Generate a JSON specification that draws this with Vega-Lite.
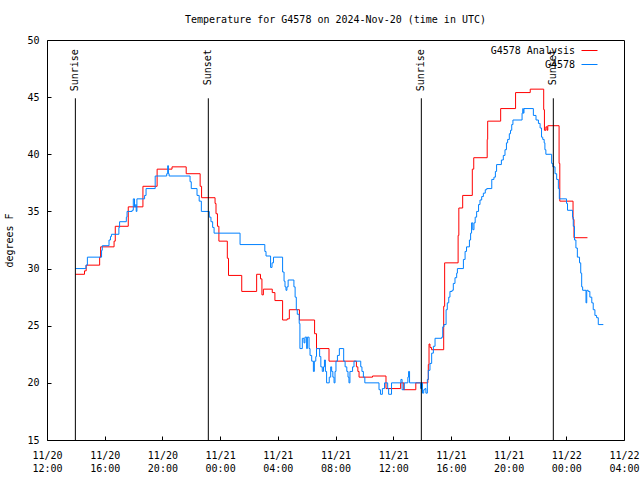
{
"$schema": "https://vega.github.io/schema/vega-lite/v6.json",
"width": 577, "height": 400,
"autosize": {"type": "none"},
"padding": {"left": 47, "top": 40, "right": 16, "bottom": 40},
"background": "white",
"title": {"text": "Temperature for G4578 on 2024-Nov-20 (time in UTC)", "font": "DejaVu Sans Mono", "fontSize": 10, "fontWeight": "normal", "offset": 10, "anchor": "middle", "color": "black"},
"config": {
  "view": {"stroke": "black", "strokeWidth": 1},
  "font": "DejaVu Sans Mono",
  "axis": {"domain": false, "grid": false, "labelFont": "DejaVu Sans Mono", "labelFontSize": 10, "labelColor": "black", "tickColor": "black", "titleFont": "DejaVu Sans Mono", "titleFontSize": 10, "titleFontWeight": "normal", "titleColor": "black"}
},
"datasets": {
"events": [
{"time": "2024-11-20T13:58:00Z", "event": "Sunrise"},
{"time": "2024-11-20T23:11:00Z", "event": "Sunset"},
{"time": "2024-11-21T13:57:00Z", "event": "Sunrise"},
{"time": "2024-11-21T23:06:00Z", "event": "Sunset"}
],
"obs": [
{"time":"2024-11-20T13:58:00Z","series":"G4578 Analysis","temp":29.5},
{"time":"2024-11-20T14:36:00Z","series":"G4578 Analysis","temp":29.8},
{"time":"2024-11-20T14:43:00Z","series":"G4578 Analysis","temp":30.3},
{"time":"2024-11-20T15:39:00Z","series":"G4578 Analysis","temp":31.0},
{"time":"2024-11-20T15:43:00Z","series":"G4578 Analysis","temp":31.9},
{"time":"2024-11-20T16:39:00Z","series":"G4578 Analysis","temp":32.4},
{"time":"2024-11-20T16:44:00Z","series":"G4578 Analysis","temp":33.7},
{"time":"2024-11-20T17:38:00Z","series":"G4578 Analysis","temp":35.4},
{"time":"2024-11-20T18:39:00Z","series":"G4578 Analysis","temp":37.2},
{"time":"2024-11-20T19:38:00Z","series":"G4578 Analysis","temp":38.7},
{"time":"2024-11-20T20:40:00Z","series":"G4578 Analysis","temp":38.9},
{"time":"2024-11-20T21:39:00Z","series":"G4578 Analysis","temp":38.3},
{"time":"2024-11-20T22:37:00Z","series":"G4578 Analysis","temp":37.2},
{"time":"2024-11-20T22:43:00Z","series":"G4578 Analysis","temp":36.2},
{"time":"2024-11-20T23:39:00Z","series":"G4578 Analysis","temp":35.7},
{"time":"2024-11-20T23:43:00Z","series":"G4578 Analysis","temp":34.8},
{"time":"2024-11-20T23:49:00Z","series":"G4578 Analysis","temp":33.7},
{"time":"2024-11-20T23:55:00Z","series":"G4578 Analysis","temp":32.4},
{"time":"2024-11-21T00:30:00Z","series":"G4578 Analysis","temp":30.9},
{"time":"2024-11-21T00:35:00Z","series":"G4578 Analysis","temp":29.4},
{"time":"2024-11-21T01:30:00Z","series":"G4578 Analysis","temp":28.0},
{"time":"2024-11-21T02:32:00Z","series":"G4578 Analysis","temp":29.5},
{"time":"2024-11-21T02:48:00Z","series":"G4578 Analysis","temp":29.1},
{"time":"2024-11-21T02:54:00Z","series":"G4578 Analysis","temp":27.7},
{"time":"2024-11-21T03:00:00Z","series":"G4578 Analysis","temp":28.2},
{"time":"2024-11-21T03:37:00Z","series":"G4578 Analysis","temp":27.9},
{"time":"2024-11-21T03:48:00Z","series":"G4578 Analysis","temp":27.2},
{"time":"2024-11-21T04:20:00Z","series":"G4578 Analysis","temp":25.5},
{"time":"2024-11-21T04:39:00Z","series":"G4578 Analysis","temp":25.6},
{"time":"2024-11-21T04:48:00Z","series":"G4578 Analysis","temp":26.4},
{"time":"2024-11-21T05:30:00Z","series":"G4578 Analysis","temp":25.5},
{"time":"2024-11-21T06:33:00Z","series":"G4578 Analysis","temp":24.3},
{"time":"2024-11-21T06:41:00Z","series":"G4578 Analysis","temp":23.0},
{"time":"2024-11-21T07:33:00Z","series":"G4578 Analysis","temp":21.9},
{"time":"2024-11-21T08:42:00Z","series":"G4578 Analysis","temp":21.9},
{"time":"2024-11-21T09:27:00Z","series":"G4578 Analysis","temp":21.4},
{"time":"2024-11-21T09:33:00Z","series":"G4578 Analysis","temp":21.0},
{"time":"2024-11-21T09:38:00Z","series":"G4578 Analysis","temp":20.5},
{"time":"2024-11-21T10:34:00Z","series":"G4578 Analysis","temp":20.6},
{"time":"2024-11-21T11:30:00Z","series":"G4578 Analysis","temp":19.5},
{"time":"2024-11-21T12:31:00Z","series":"G4578 Analysis","temp":20.0},
{"time":"2024-11-21T12:44:00Z","series":"G4578 Analysis","temp":19.4},
{"time":"2024-11-21T13:34:00Z","series":"G4578 Analysis","temp":20.0},
{"time":"2024-11-21T14:24:00Z","series":"G4578 Analysis","temp":20.3},
{"time":"2024-11-21T14:26:00Z","series":"G4578 Analysis","temp":21.6},
{"time":"2024-11-21T14:29:00Z","series":"G4578 Analysis","temp":23.4},
{"time":"2024-11-21T14:33:00Z","series":"G4578 Analysis","temp":23.1},
{"time":"2024-11-21T14:39:00Z","series":"G4578 Analysis","temp":22.9},
{"time":"2024-11-21T15:30:00Z","series":"G4578 Analysis","temp":26.7},
{"time":"2024-11-21T15:34:00Z","series":"G4578 Analysis","temp":30.5},
{"time":"2024-11-21T15:36:00Z","series":"G4578 Analysis","temp":30.5},
{"time":"2024-11-21T16:30:00Z","series":"G4578 Analysis","temp":32.9},
{"time":"2024-11-21T16:33:00Z","series":"G4578 Analysis","temp":35.3},
{"time":"2024-11-21T16:49:00Z","series":"G4578 Analysis","temp":36.4},
{"time":"2024-11-21T17:29:00Z","series":"G4578 Analysis","temp":38.7},
{"time":"2024-11-21T17:35:00Z","series":"G4578 Analysis","temp":39.7},
{"time":"2024-11-21T18:31:00Z","series":"G4578 Analysis","temp":41.3},
{"time":"2024-11-21T18:33:00Z","series":"G4578 Analysis","temp":42.9},
{"time":"2024-11-21T19:27:00Z","series":"G4578 Analysis","temp":44.0},
{"time":"2024-11-21T20:29:00Z","series":"G4578 Analysis","temp":45.4},
{"time":"2024-11-21T21:30:00Z","series":"G4578 Analysis","temp":45.7},
{"time":"2024-11-21T22:26:00Z","series":"G4578 Analysis","temp":43.9},
{"time":"2024-11-21T22:29:00Z","series":"G4578 Analysis","temp":42.1},
{"time":"2024-11-21T22:35:00Z","series":"G4578 Analysis","temp":42.4},
{"time":"2024-11-21T22:40:00Z","series":"G4578 Analysis","temp":42.1},
{"time":"2024-11-21T22:43:00Z","series":"G4578 Analysis","temp":42.5},
{"time":"2024-11-21T23:30:00Z","series":"G4578 Analysis","temp":39.2},
{"time":"2024-11-21T23:33:00Z","series":"G4578 Analysis","temp":35.9},
{"time":"2024-11-22T00:28:00Z","series":"G4578 Analysis","temp":34.3},
{"time":"2024-11-22T00:32:00Z","series":"G4578 Analysis","temp":32.7},
{"time":"2024-11-22T01:28:00Z","series":"G4578 Analysis","temp":32.7},
{"time":"2024-11-20T13:58:00Z","series":"G4578","temp":30.0},
{"time":"2024-11-20T14:42:00Z","series":"G4578","temp":30.3},
{"time":"2024-11-20T14:48:00Z","series":"G4578","temp":31.0},
{"time":"2024-11-20T15:47:00Z","series":"G4578","temp":31.6},
{"time":"2024-11-20T15:50:00Z","series":"G4578","temp":32.0},
{"time":"2024-11-20T16:18:00Z","series":"G4578","temp":32.5},
{"time":"2024-11-20T16:24:00Z","series":"G4578","temp":32.8},
{"time":"2024-11-20T16:28:00Z","series":"G4578","temp":33.0},
{"time":"2024-11-20T16:59:00Z","series":"G4578","temp":33.6},
{"time":"2024-11-20T17:02:00Z","series":"G4578","temp":34.1},
{"time":"2024-11-20T17:30:00Z","series":"G4578","temp":34.5},
{"time":"2024-11-20T17:33:00Z","series":"G4578","temp":35.0},
{"time":"2024-11-20T17:54:00Z","series":"G4578","temp":35.1},
{"time":"2024-11-20T17:59:00Z","series":"G4578","temp":36.1},
{"time":"2024-11-20T18:04:00Z","series":"G4578","temp":35.4},
{"time":"2024-11-20T18:09:00Z","series":"G4578","temp":35.6},
{"time":"2024-11-20T18:11:00Z","series":"G4578","temp":35.0},
{"time":"2024-11-20T18:14:00Z","series":"G4578","temp":36.1},
{"time":"2024-11-20T18:46:00Z","series":"G4578","temp":36.4},
{"time":"2024-11-20T18:52:00Z","series":"G4578","temp":37.0},
{"time":"2024-11-20T19:30:00Z","series":"G4578","temp":38.1},
{"time":"2024-11-20T20:18:00Z","series":"G4578","temp":38.3},
{"time":"2024-11-20T20:22:00Z","series":"G4578","temp":39.0},
{"time":"2024-11-20T20:25:00Z","series":"G4578","temp":38.3},
{"time":"2024-11-20T20:28:00Z","series":"G4578","temp":38.1},
{"time":"2024-11-20T21:55:00Z","series":"G4578","temp":37.6},
{"time":"2024-11-20T22:00:00Z","series":"G4578","temp":37.0},
{"time":"2024-11-20T22:24:00Z","series":"G4578","temp":36.4},
{"time":"2024-11-20T22:33:00Z","series":"G4578","temp":35.9},
{"time":"2024-11-20T22:42:00Z","series":"G4578","temp":35.0},
{"time":"2024-11-20T23:15:00Z","series":"G4578","temp":34.5},
{"time":"2024-11-20T23:22:00Z","series":"G4578","temp":34.1},
{"time":"2024-11-20T23:29:00Z","series":"G4578","temp":33.6},
{"time":"2024-11-20T23:35:00Z","series":"G4578","temp":33.1},
{"time":"2024-11-21T01:23:00Z","series":"G4578","temp":32.1},
{"time":"2024-11-21T03:06:00Z","series":"G4578","temp":31.5},
{"time":"2024-11-21T03:11:00Z","series":"G4578","temp":31.1},
{"time":"2024-11-21T03:30:00Z","series":"G4578","temp":30.1},
{"time":"2024-11-21T03:36:00Z","series":"G4578","temp":30.5},
{"time":"2024-11-21T03:42:00Z","series":"G4578","temp":31.0},
{"time":"2024-11-21T04:20:00Z","series":"G4578","temp":29.7},
{"time":"2024-11-21T04:26:00Z","series":"G4578","temp":28.9},
{"time":"2024-11-21T04:30:00Z","series":"G4578","temp":28.4},
{"time":"2024-11-21T04:34:00Z","series":"G4578","temp":28.1},
{"time":"2024-11-21T04:38:00Z","series":"G4578","temp":28.4},
{"time":"2024-11-21T04:43:00Z","series":"G4578","temp":29.0},
{"time":"2024-11-21T05:07:00Z","series":"G4578","temp":28.4},
{"time":"2024-11-21T05:12:00Z","series":"G4578","temp":27.5},
{"time":"2024-11-21T05:17:00Z","series":"G4578","temp":26.4},
{"time":"2024-11-21T05:21:00Z","series":"G4578","temp":26.0},
{"time":"2024-11-21T05:29:00Z","series":"G4578","temp":25.2},
{"time":"2024-11-21T05:32:00Z","series":"G4578","temp":23.0},
{"time":"2024-11-21T05:42:00Z","series":"G4578","temp":23.9},
{"time":"2024-11-21T05:49:00Z","series":"G4578","temp":23.5},
{"time":"2024-11-21T05:53:00Z","series":"G4578","temp":24.0},
{"time":"2024-11-21T06:00:00Z","series":"G4578","temp":23.0},
{"time":"2024-11-21T06:03:00Z","series":"G4578","temp":24.0},
{"time":"2024-11-21T06:10:00Z","series":"G4578","temp":23.0},
{"time":"2024-11-21T06:14:00Z","series":"G4578","temp":22.4},
{"time":"2024-11-21T06:21:00Z","series":"G4578","temp":21.9},
{"time":"2024-11-21T06:28:00Z","series":"G4578","temp":21.0},
{"time":"2024-11-21T06:32:00Z","series":"G4578","temp":21.9},
{"time":"2024-11-21T06:38:00Z","series":"G4578","temp":22.3},
{"time":"2024-11-21T06:41:00Z","series":"G4578","temp":23.0},
{"time":"2024-11-21T06:54:00Z","series":"G4578","temp":22.3},
{"time":"2024-11-21T06:59:00Z","series":"G4578","temp":21.4},
{"time":"2024-11-21T07:05:00Z","series":"G4578","temp":21.0},
{"time":"2024-11-21T07:10:00Z","series":"G4578","temp":21.4},
{"time":"2024-11-21T07:14:00Z","series":"G4578","temp":22.0},
{"time":"2024-11-21T07:18:00Z","series":"G4578","temp":21.0},
{"time":"2024-11-21T07:23:00Z","series":"G4578","temp":20.0},
{"time":"2024-11-21T07:34:00Z","series":"G4578","temp":20.5},
{"time":"2024-11-21T07:40:00Z","series":"G4578","temp":21.4},
{"time":"2024-11-21T07:44:00Z","series":"G4578","temp":21.0},
{"time":"2024-11-21T07:49:00Z","series":"G4578","temp":20.5},
{"time":"2024-11-21T07:54:00Z","series":"G4578","temp":20.0},
{"time":"2024-11-21T07:58:00Z","series":"G4578","temp":21.0},
{"time":"2024-11-21T08:02:00Z","series":"G4578","temp":21.9},
{"time":"2024-11-21T08:08:00Z","series":"G4578","temp":22.4},
{"time":"2024-11-21T08:16:00Z","series":"G4578","temp":23.0},
{"time":"2024-11-21T08:34:00Z","series":"G4578","temp":21.9},
{"time":"2024-11-21T08:40:00Z","series":"G4578","temp":21.4},
{"time":"2024-11-21T08:47:00Z","series":"G4578","temp":21.0},
{"time":"2024-11-21T08:52:00Z","series":"G4578","temp":20.5},
{"time":"2024-11-21T08:56:00Z","series":"G4578","temp":20.0},
{"time":"2024-11-21T09:00:00Z","series":"G4578","temp":21.0},
{"time":"2024-11-21T09:11:00Z","series":"G4578","temp":21.4},
{"time":"2024-11-21T09:17:00Z","series":"G4578","temp":21.9},
{"time":"2024-11-21T09:45:00Z","series":"G4578","temp":21.4},
{"time":"2024-11-21T09:50:00Z","series":"G4578","temp":21.0},
{"time":"2024-11-21T09:56:00Z","series":"G4578","temp":20.5},
{"time":"2024-11-21T10:02:00Z","series":"G4578","temp":20.0},
{"time":"2024-11-21T11:01:00Z","series":"G4578","temp":19.4},
{"time":"2024-11-21T11:07:00Z","series":"G4578","temp":19.0},
{"time":"2024-11-21T11:15:00Z","series":"G4578","temp":19.5},
{"time":"2024-11-21T11:24:00Z","series":"G4578","temp":20.0},
{"time":"2024-11-21T11:37:00Z","series":"G4578","temp":19.5},
{"time":"2024-11-21T11:41:00Z","series":"G4578","temp":19.0},
{"time":"2024-11-21T11:53:00Z","series":"G4578","temp":20.0},
{"time":"2024-11-21T12:32:00Z","series":"G4578","temp":20.3},
{"time":"2024-11-21T12:37:00Z","series":"G4578","temp":19.4},
{"time":"2024-11-21T12:46:00Z","series":"G4578","temp":20.0},
{"time":"2024-11-21T13:01:00Z","series":"G4578","temp":20.5},
{"time":"2024-11-21T13:04:00Z","series":"G4578","temp":21.0},
{"time":"2024-11-21T13:08:00Z","series":"G4578","temp":20.0},
{"time":"2024-11-21T13:54:00Z","series":"G4578","temp":19.5},
{"time":"2024-11-21T13:58:00Z","series":"G4578","temp":20.0},
{"time":"2024-11-21T14:02:00Z","series":"G4578","temp":19.1},
{"time":"2024-11-21T14:07:00Z","series":"G4578","temp":19.4},
{"time":"2024-11-21T14:12:00Z","series":"G4578","temp":19.5},
{"time":"2024-11-21T14:16:00Z","series":"G4578","temp":19.1},
{"time":"2024-11-21T14:22:00Z","series":"G4578","temp":20.3},
{"time":"2024-11-21T14:26:00Z","series":"G4578","temp":21.1},
{"time":"2024-11-21T14:33:00Z","series":"G4578","temp":21.7},
{"time":"2024-11-21T14:40:00Z","series":"G4578","temp":22.6},
{"time":"2024-11-21T14:47:00Z","series":"G4578","temp":23.2},
{"time":"2024-11-21T14:54:00Z","series":"G4578","temp":23.9},
{"time":"2024-11-21T15:22:00Z","series":"G4578","temp":24.0},
{"time":"2024-11-21T15:26:00Z","series":"G4578","temp":24.9},
{"time":"2024-11-21T15:31:00Z","series":"G4578","temp":25.1},
{"time":"2024-11-21T15:40:00Z","series":"G4578","temp":26.4},
{"time":"2024-11-21T15:45:00Z","series":"G4578","temp":27.0},
{"time":"2024-11-21T15:51:00Z","series":"G4578","temp":27.5},
{"time":"2024-11-21T15:56:00Z","series":"G4578","temp":28.0},
{"time":"2024-11-21T16:05:00Z","series":"G4578","temp":28.1},
{"time":"2024-11-21T16:10:00Z","series":"G4578","temp":28.7},
{"time":"2024-11-21T16:17:00Z","series":"G4578","temp":29.2},
{"time":"2024-11-21T16:24:00Z","series":"G4578","temp":29.6},
{"time":"2024-11-21T16:27:00Z","series":"G4578","temp":30.0},
{"time":"2024-11-21T16:52:00Z","series":"G4578","temp":30.8},
{"time":"2024-11-21T16:59:00Z","series":"G4578","temp":31.5},
{"time":"2024-11-21T17:05:00Z","series":"G4578","temp":31.9},
{"time":"2024-11-21T17:17:00Z","series":"G4578","temp":32.5},
{"time":"2024-11-21T17:22:00Z","series":"G4578","temp":33.1},
{"time":"2024-11-21T17:26:00Z","series":"G4578","temp":34.0},
{"time":"2024-11-21T17:31:00Z","series":"G4578","temp":33.4},
{"time":"2024-11-21T17:36:00Z","series":"G4578","temp":34.0},
{"time":"2024-11-21T17:41:00Z","series":"G4578","temp":34.5},
{"time":"2024-11-21T17:47:00Z","series":"G4578","temp":35.0},
{"time":"2024-11-21T17:55:00Z","series":"G4578","temp":35.6},
{"time":"2024-11-21T18:01:00Z","series":"G4578","temp":36.0},
{"time":"2024-11-21T18:08:00Z","series":"G4578","temp":36.3},
{"time":"2024-11-21T18:15:00Z","series":"G4578","temp":36.6},
{"time":"2024-11-21T18:23:00Z","series":"G4578","temp":36.9},
{"time":"2024-11-21T18:29:00Z","series":"G4578","temp":37.0},
{"time":"2024-11-21T18:50:00Z","series":"G4578","temp":37.8},
{"time":"2024-11-21T18:59:00Z","series":"G4578","temp":38.0},
{"time":"2024-11-21T19:05:00Z","series":"G4578","temp":38.5},
{"time":"2024-11-21T19:10:00Z","series":"G4578","temp":39.1},
{"time":"2024-11-21T19:30:00Z","series":"G4578","temp":39.5},
{"time":"2024-11-21T19:38:00Z","series":"G4578","temp":39.9},
{"time":"2024-11-21T19:45:00Z","series":"G4578","temp":40.4},
{"time":"2024-11-21T19:51:00Z","series":"G4578","temp":41.0},
{"time":"2024-11-21T19:56:00Z","series":"G4578","temp":41.3},
{"time":"2024-11-21T20:03:00Z","series":"G4578","temp":41.8},
{"time":"2024-11-21T20:08:00Z","series":"G4578","temp":42.1},
{"time":"2024-11-21T20:13:00Z","series":"G4578","temp":42.6},
{"time":"2024-11-21T20:18:00Z","series":"G4578","temp":43.0},
{"time":"2024-11-21T20:56:00Z","series":"G4578","temp":43.6},
{"time":"2024-11-21T20:59:00Z","series":"G4578","temp":44.0},
{"time":"2024-11-21T21:01:00Z","series":"G4578","temp":43.6},
{"time":"2024-11-21T21:04:00Z","series":"G4578","temp":44.0},
{"time":"2024-11-21T21:43:00Z","series":"G4578","temp":43.4},
{"time":"2024-11-21T21:54:00Z","series":"G4578","temp":43.0},
{"time":"2024-11-21T22:04:00Z","series":"G4578","temp":42.7},
{"time":"2024-11-21T22:11:00Z","series":"G4578","temp":42.3},
{"time":"2024-11-21T22:17:00Z","series":"G4578","temp":41.5},
{"time":"2024-11-21T22:22:00Z","series":"G4578","temp":41.3},
{"time":"2024-11-21T22:28:00Z","series":"G4578","temp":41.0},
{"time":"2024-11-21T22:31:00Z","series":"G4578","temp":40.4},
{"time":"2024-11-21T22:35:00Z","series":"G4578","temp":40.0},
{"time":"2024-11-21T22:59:00Z","series":"G4578","temp":39.2},
{"time":"2024-11-21T23:04:00Z","series":"G4578","temp":38.9},
{"time":"2024-11-21T23:13:00Z","series":"G4578","temp":38.3},
{"time":"2024-11-21T23:20:00Z","series":"G4578","temp":37.8},
{"time":"2024-11-21T23:27:00Z","series":"G4578","temp":37.0},
{"time":"2024-11-21T23:31:00Z","series":"G4578","temp":36.1},
{"time":"2024-11-22T00:01:00Z","series":"G4578","temp":35.7},
{"time":"2024-11-22T00:05:00Z","series":"G4578","temp":35.1},
{"time":"2024-11-22T00:26:00Z","series":"G4578","temp":34.5},
{"time":"2024-11-22T00:29:00Z","series":"G4578","temp":33.7},
{"time":"2024-11-22T00:34:00Z","series":"G4578","temp":32.5},
{"time":"2024-11-22T00:40:00Z","series":"G4578","temp":31.8},
{"time":"2024-11-22T00:46:00Z","series":"G4578","temp":31.0},
{"time":"2024-11-22T00:55:00Z","series":"G4578","temp":30.5},
{"time":"2024-11-22T01:00:00Z","series":"G4578","temp":29.6},
{"time":"2024-11-22T01:04:00Z","series":"G4578","temp":28.4},
{"time":"2024-11-22T01:08:00Z","series":"G4578","temp":28.1},
{"time":"2024-11-22T01:22:00Z","series":"G4578","temp":27.0},
{"time":"2024-11-22T01:25:00Z","series":"G4578","temp":28.1},
{"time":"2024-11-22T01:31:00Z","series":"G4578","temp":28.0},
{"time":"2024-11-22T01:38:00Z","series":"G4578","temp":27.5},
{"time":"2024-11-22T01:46:00Z","series":"G4578","temp":27.0},
{"time":"2024-11-22T01:52:00Z","series":"G4578","temp":26.4},
{"time":"2024-11-22T01:59:00Z","series":"G4578","temp":25.9},
{"time":"2024-11-22T02:06:00Z","series":"G4578","temp":25.7},
{"time":"2024-11-22T02:13:00Z","series":"G4578","temp":25.1},
{"time":"2024-11-22T02:34:00Z","series":"G4578","temp":25.1}
]
},
"layer": [
{
  "data": {"name": "obs"},
  "mark": {"type": "line", "interpolate": "step-after", "strokeWidth": 1},
  "encoding": {
    "x": {"field": "time", "type": "temporal",
      "scale": {"type": "utc", "domain": [1732104000000, 1732248000000], "nice": false},
      "axis": {"title": null,
        "values": [1732104000000,1732107600000,1732111200000,1732114800000,1732118400000,1732122000000,1732125600000,1732129200000,1732132800000,1732136400000,1732140000000,1732143600000,1732147200000,1732150800000,1732154400000,1732158000000,1732161600000,1732165200000,1732168800000,1732172400000,1732176000000,1732179600000,1732183200000,1732186800000,1732190400000,1732194000000,1732197600000,1732201200000,1732204800000,1732208400000,1732212000000,1732215600000,1732219200000,1732222800000,1732226400000,1732230000000,1732233600000,1732237200000,1732240800000,1732244400000,1732248000000],
        "labelExpr": "utchours(datum.value) % 4 == 0 ? [utcFormat(datum.value, '%m/%d'), utcFormat(datum.value, '%H:%M')] : ''",
        "labelOverlap": false, "labelFlush": false, "labelLineHeight": 13, "labelPadding": 14,
        "tickSize": -4}},
    "y": {"field": "temp", "type": "quantitative",
      "scale": {"domain": [15, 50], "nice": false, "zero": false},
      "axis": {"title": "degrees F", "values": [15, 20, 25, 30, 35, 40, 45, 50], "tickSize": -4, "labelPadding": 12, "titlePadding": 12}},
    "color": {"field": "series", "type": "nominal",
      "scale": {"domain": ["G4578 Analysis", "G4578"], "range": ["#ff0000", "#0080ff"]},
      "legend": {"title": null, "orient": "none", "legendX": 534, "legendY": 2, "symbolType": "stroke", "symbolSize": 256, "symbolStrokeWidth": 1, "labelFont": "DejaVu Sans Mono", "labelFontSize": 10, "labelColor": "black", "labelAlign": "right", "labelOffset": -23, "rowPadding": 0}}
  }
},
{
  "data": {"name": "events"},
  "mark": {"type": "rule", "color": "black", "strokeWidth": 1},
  "encoding": {
    "x": {"field": "time", "type": "temporal"},
    "y": {"datum": 15},
    "y2": {"datum": 44.9}
  }
},
{
  "data": {"name": "events"},
  "mark": {"type": "text", "angle": 270, "align": "right", "baseline": "middle", "font": "DejaVu Sans Mono", "fontSize": 10, "color": "black"},
  "encoding": {
    "x": {"field": "time", "type": "temporal"},
    "y": {"datum": 49.2},
    "text": {"field": "event"}
  }
}
]
}
